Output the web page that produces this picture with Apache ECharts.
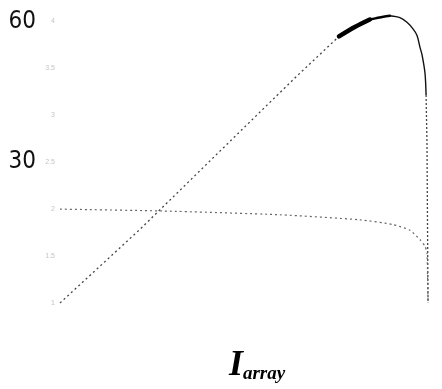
<!DOCTYPE html>
<html>
<head>
<meta charset="utf-8">
<script src="https://cdn.jsdelivr.net/npm/echarts@6/dist/echarts.min.js"></script>
<style>html,body{margin:0;padding:0;background:#fff}#c{width:442px;height:389px}</style>
</head>
<body>
<div id="c"></div>
<script>
// Power curve (W) vs voltage (V)
const powerV = [0, 5.32, 13.3, 15.8, 18.55, 19.6, 20.6, 21.5, 21.94, 22.6, 23.07, 23.47, 23.74, 23.94, 24.07, 24.27, 24.34, 24.4, 24.47];
const powerP = [0, 15.7, 40.7, 48.5, 56.8, 58.8, 60.4, 61.0, 61.2, 60.8, 59.8, 58.4, 57.0, 54.4, 52.9, 48.9, 44.3, 34.2, 0];
// Current curve (A) vs voltage (V)
const currentV = [0, 6.85, 14.6, 19.95, 22.14, 23.27, 23.94, 24.27, 24.4, 24.47];
const currentI = [2.00, 1.98, 1.94, 1.886, 1.835, 1.775, 1.674, 1.604, 1.533, 1.0];
// Tick labels
const powerTicks = [30, 60];
const currentTicks = [1, 1.5, 2, 2.5, 3, 3.5, 4];

const zip = (xs, ys, a, b) => xs.slice(a, b).map((x, i) => [x, ys[a + i]]);
const n = powerV.length;

const chart = echarts.init(document.getElementById('c'));
chart.setOption({
  animation: false,
  backgroundColor: '#fff',
  grid: { left: 60, right: 6, top: 12, bottom: 69 },
  xAxis: {
    type: 'value', min: 0, max: 25,
    axisLine: { show: false }, axisTick: { show: false }, splitLine: { show: false },
    axisLabel: { show: false },
    name: '{a|I}{b|array}',
    nameLocation: 'middle', nameGap: 45,
    nameTextStyle: {
      padding: [0, 0, 0, 18],
      rich: {
        a: { fontFamily: 'Liberation Serif', fontStyle: 'italic', fontWeight: 'bold', fontSize: 36, lineHeight: 36, color: '#000', verticalAlign: 'bottom' },
        b: { fontFamily: 'Liberation Serif', fontStyle: 'italic', fontWeight: 'bold', fontSize: 19, lineHeight: 14, color: '#000', verticalAlign: 'bottom' }
      }
    }
  },
  yAxis: [{
    type: 'value', min: 0, max: 62,
    axisLine: { show: false }, axisTick: { show: false }, splitLine: { show: false },
    axisLabel: {
      customValues: powerTicks, margin: 24,
      fontFamily: 'Liberation Sans Narrow, DejaVu Sans Condensed, sans-serif',
      fontSize: 24, color: '#111'
    }
  }, {
    type: 'value', min: 1, max: 4.1, position: 'left',
    axisLine: { show: false }, axisTick: { show: false }, splitLine: { show: false },
    axisLabel: { customValues: currentTicks, margin: 5, fontSize: 7, color: '#c4c4c4' }
  }],
  series: [
    { type: 'line', yAxisIndex: 0, data: zip(powerV, powerP, 0, 5), symbol: 'none',
      lineStyle: { color: '#444', width: 1.3, type: [2, 3] } },
    { type: 'line', yAxisIndex: 0, data: zip(powerV, powerP, 4, 7), symbol: 'none', smooth: 0.3,
      lineStyle: { color: '#000', width: 4.5, cap: 'round' } },
    { type: 'line', yAxisIndex: 0, data: zip(powerV, powerP, 6, 9), symbol: 'none', smooth: 0.3,
      lineStyle: { color: '#000', width: 2.5, cap: 'round' } },
    { type: 'line', yAxisIndex: 0, data: zip(powerV, powerP, 8, 17), symbol: 'none', smooth: 0.3,
      lineStyle: { color: '#111', width: 1.4 } },
    { type: 'line', yAxisIndex: 0, data: zip(powerV, powerP, 16, n), symbol: 'none',
      lineStyle: { color: '#444', width: 1.3, type: [2, 2] } },
    { type: 'line', yAxisIndex: 1, data: zip(currentV, currentI, 0, currentV.length), symbol: 'none', smooth: 0.2,
      lineStyle: { color: '#666', width: 1.2, type: [2, 3] } }
  ]
});
</script>
</body>
</html>
